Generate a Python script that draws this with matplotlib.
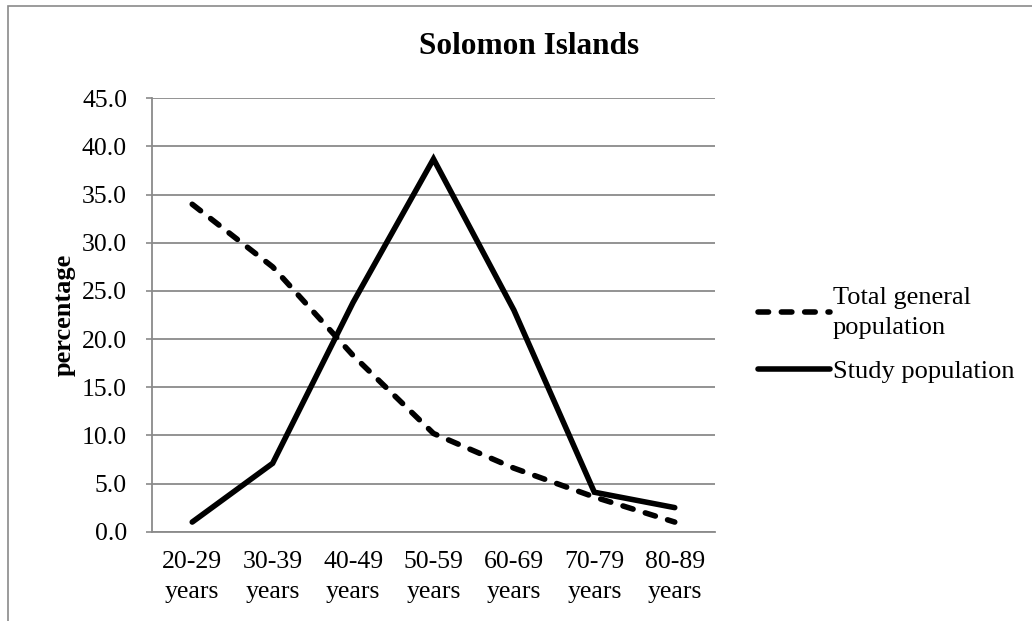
import numpy as np
import matplotlib
matplotlib.use("Agg")
import matplotlib.pyplot as plt
from matplotlib.patches import Rectangle

plt.rcParams['font.family'] = ['Liberation Serif', 'DejaVu Serif']

# data
ages = ["20-29\nyears", "30-39\nyears", "40-49\nyears", "50-59\nyears",
        "60-69\nyears", "70-79\nyears", "80-89\nyears"]
general = [34.0, 27.5, 18.3, 10.2, 6.6, 3.6, 1.0]
study = [1.0, 7.1, 23.8, 38.7, 23.0, 4.1, 2.5]
yticks = np.arange(0, 46, 5)

fig = plt.figure(figsize=(10.32, 6.21), dpi=100)
ax = fig.add_axes([0.1473, 0.1438, 0.6928 - 0.1473, 0.8417 - 0.1438])

x = np.arange(len(ages))
gl, = ax.plot(x, general, color="black", lw=4.0, dashes=(1.9, 2.3),
              dash_capstyle="round", solid_capstyle="round")
sl, = ax.plot(x, study, color="black", lw=4.0, solid_capstyle="round",
              solid_joinstyle="miter")

ax.set_xlim(-0.5, len(ages) - 0.5)
ax.set_ylim(0, 45)
ax.set_yticks(yticks)
ax.set_yticklabels(["%.1f" % v for v in yticks])
ax.set_xticks(x)
ax.set_xticklabels(ages, linespacing=1.45)
ax.yaxis.grid(True, color="#8a8a8a", lw=1.3)
ax.set_axisbelow(True)
for s in ["top", "right"]:
    ax.spines[s].set_visible(False)
for s in ["left", "bottom"]:
    ax.spines[s].set_color("#8a8a8a")
    ax.spines[s].set_linewidth(1.3)
ax.tick_params(axis="y", length=4, width=1.2, color="#8a8a8a", pad=14,
               labelsize=18.5)
ax.tick_params(axis="x", length=0, pad=14, labelsize=18.5)

ax.set_ylabel("percentage", fontsize=19, fontweight="bold")
ax.yaxis.set_label_coords(-0.135, 0.5)

fig.text(0.5125, 0.925, "Solomon Islands", ha="center", va="center",
         fontsize=22.5, fontweight="bold")

leg = fig.legend([gl, sl], ["Total general\npopulation", "Study population"],
                 loc="center left", bbox_to_anchor=(0.711, 0.46),
                 frameon=False, fontsize=19, handlelength=2.75,
                 handletextpad=0.1, labelspacing=0.8)
for t in leg.get_texts():
    t.set_linespacing(1.45)

# thin frame around the chart area
fig.patches.append(Rectangle((0.008, -0.1), 1.2, 1.09, transform=fig.transFigure,
                             fill=False, edgecolor="#8a8a8a", lw=1.2))

fig.savefig("out.png", dpi=100)
